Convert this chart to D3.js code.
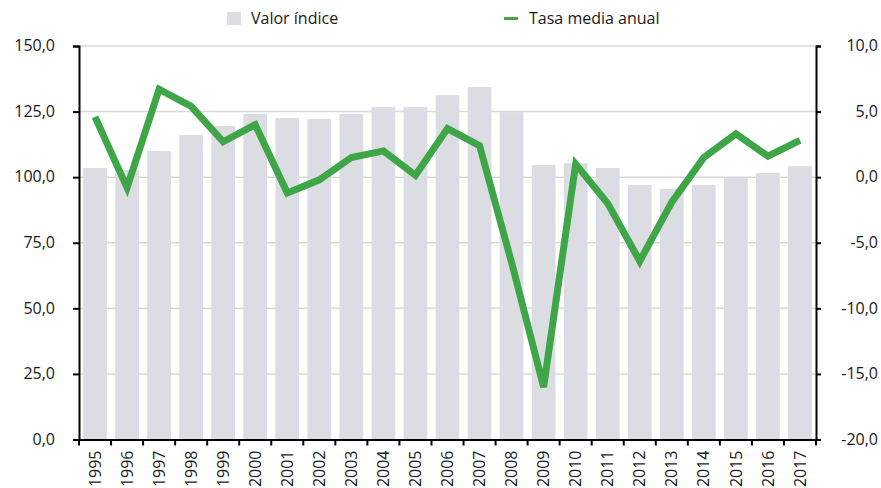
<!DOCTYPE html>
<html><head><meta charset="utf-8">
<script src="https://cdn.jsdelivr.net/npm/d3@7"></script>
<style>body{margin:0;background:#fff}svg{display:block}text{font-family:"Open Sans",sans-serif;fill:#1a1a1a}</style>
</head><body><svg id="c" width="881" height="488"></svg>
<script>
const years = ["1995","1996","1997","1998","1999","2000","2001","2002","2003","2004","2005","2006","2007","2008","2009","2010","2011","2012","2013","2014","2015","2016","2017"];
const valorIndice = [103.5,102.7,110.0,116.1,119.5,124.1,122.5,122.2,124.1,126.7,126.7,131.3,134.4,124.8,104.6,105.4,103.5,97.0,95.5,97.0,99.7,101.6,104.2];
const tasaMedia = [4.6,-0.8,6.7,5.4,2.7,4.0,-1.2,-0.2,1.5,2.0,0.15,3.7,2.4,-6.5,-16.0,1.0,-2.0,-6.4,-1.9,1.5,3.3,1.6,2.8];
const leftTicks = [0,25,50,75,100,125,150];
const rightTicks = [-20,-15,-10,-5,0,5,10];
const seriesNames = ["Valor índice","Tasa media anual"];

const svg = d3.select("#c");
const FS = 16;
const L = 79, R = 816, T = 46, B = 439.5;
const x = d3.scaleBand().domain(years).range([L, R]).paddingInner(0.26).paddingOuter(0.13);
const xb = d3.scaleBand().domain(years).range([L, R]);
const yL = d3.scaleLinear().domain([0,150]).range([B, T]);
const yR = d3.scaleLinear().domain([-20,10]).range([B, T]);
const fmt = d => d3.format(".1f")(d).replace(".", ",").replace("\u2212", "-");

// gridlines
svg.append("g").selectAll("line").data(leftTicks.filter(d=>d>0)).join("line")
  .attr("x1", L).attr("x2", R).attr("y1", d=>yL(d)).attr("y2", d=>yL(d))
  .attr("stroke", "#d9d9d9").attr("stroke-width", 1.5);

// bars
svg.append("g").selectAll("rect").data(valorIndice).join("rect")
  .attr("x", (d,i)=>x(years[i])).attr("width", x.bandwidth())
  .attr("y", d=>yL(d)).attr("height", d=>B - yL(d)).attr("fill", "#dcdde2");

// line
const line = d3.line().x((d,i)=>xb(years[i]) + xb.bandwidth()/2).y(d=>yR(d));
svg.append("path").datum(tasaMedia).attr("d", line).attr("fill","none")
  .attr("stroke","#3fa648").attr("stroke-width",7).attr("stroke-linejoin","miter");

// left axis
const gl = svg.append("g").attr("transform",`translate(${L},0)`)
  .call(d3.axisLeft(yL).tickValues(leftTicks).tickFormat(fmt).tickSizeOuter(0).tickSize(6).tickPadding(18));
gl.select(".domain").attr("stroke","#000").attr("stroke-width",2);
gl.selectAll(".tick line").attr("stroke","#000").attr("stroke-width",2);
gl.selectAll("text").attr("font-size",FS).attr("fill","#1a1a1a").attr("dy","0.3em");

// right axis
const gr = svg.append("g").attr("transform",`translate(${R},0)`)
  .call(d3.axisRight(yR).tickValues(rightTicks).tickFormat(fmt).tickSizeOuter(0).tickSize(5).tickPadding(8));
gr.select(".domain").attr("stroke","#000").attr("stroke-width",2);
gr.selectAll(".tick line").attr("stroke","#000").attr("stroke-width",2);
gr.selectAll("text").attr("font-size",FS).attr("fill","#1a1a1a").attr("text-anchor","end").attr("x",62).attr("dy","0.3em");

// bottom axis
const gb = svg.append("g").attr("transform",`translate(0,${B})`)
  .call(d3.axisBottom(xb).tickSize(0).tickSizeOuter(0));
gb.select(".domain").attr("stroke","#000").attr("stroke-width",2);
gb.selectAll("text").attr("font-size",FS).attr("fill","#1a1a1a")
  .attr("transform","rotate(-90)").attr("text-anchor","end").attr("x",-11).attr("y",0).attr("dy","0.35em").attr("dx",0);
// boundary ticks
svg.append("g").selectAll("line").data(years.concat(["end"])).join("line")
  .attr("x1",(d,i)=> i<years.length ? xb(d) : R).attr("x2",(d,i)=> i<years.length ? xb(d) : R)
  .attr("y1",B).attr("y2",B+6).attr("stroke","#000").attr("stroke-width",2);

// legend
const lg = svg.append("g");
lg.append("rect").attr("x",227).attr("y",12).attr("width",14).attr("height",13).attr("fill","#dcdde2");
lg.append("text").attr("x",251).attr("y",24).attr("font-size",FS).text(seriesNames[0]);
lg.append("line").attr("x1",504).attr("x2",518).attr("y1",18.5).attr("y2",18.5).attr("stroke","#3fa648").attr("stroke-width",3);
lg.append("text").attr("x",529).attr("y",24).attr("font-size",FS).text(seriesNames[1]);
</script></body></html>
